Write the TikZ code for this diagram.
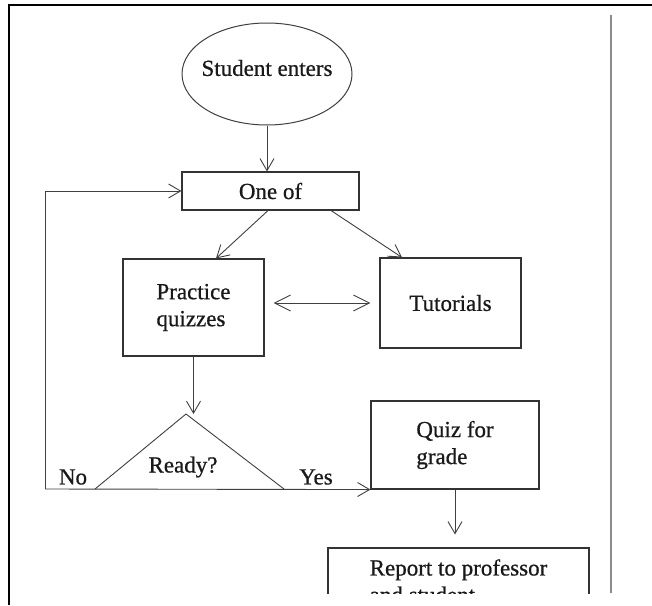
\documentclass[tikz,border=0pt]{standalone}
\usepackage{fontspec}
\setmainfont{Liberation Serif}[FakeBold=0.7]
\newfontfamily\diagfont{Liberation Serif}[FakeBold=0.7]
\usetikzlibrary{shapes.geometric,arrows.meta,calc}
\begin{document}
\begin{tikzpicture}[x=1pt,y=-1pt,
  txt/.style={font=\diagfont\fontsize{23}{27}\selectfont, text=black!90},
  box/.style={txt,draw=black!80,line width=1.1pt,rectangle,inner sep=0pt,align=left},
  arr/.style={draw=black!75,line width=0.9pt,-{Straight Barb[length=12pt,width=14pt,line width=0.9pt]}},
  darr/.style={draw=black!75,line width=0.9pt,{Straight Barb[length=16pt,width=16pt,line width=0.9pt]}-{Straight Barb[length=16pt,width=16pt,line width=0.9pt]}},
  plain/.style={draw=black!75,line width=0.9pt}]
\useasboundingbox[fill=white] (0,0) rectangle (652,605);

% frame
\draw[black,line width=2.5pt] (9,605) -- (9,5) -- (652,5);
\draw[black!45,line width=2pt] (611,15) -- (611,593);

% nodes
\node[draw=black!75,line width=1pt,ellipse,minimum width=170pt,minimum height=102pt,inner sep=0pt,
      label={[txt,yshift=6pt]center:Student enters}] (start) at (267,74) {};
\node[box,minimum width=177pt,minimum height=38pt] (oneof) at (270.5,191) {One of};
\node[box,minimum width=141pt,minimum height=97pt] (prac) at (193.5,307.5) {Practice\\quizzes};
\node[box,minimum width=141pt,minimum height=90pt] (tut) at (450.5,303) {Tutorials};
\node[box,minimum width=168pt,minimum height=88pt] (quiz) at (455,445) {Quiz for\\grade};
\begin{scope}
  \clip (0,0) rectangle (652,593);
  \node[box,minimum width=261pt,minimum height=66pt] (report) at (458.5,581) {Report to professor\\and student};
\end{scope}

% triangle
\coordinate (apex) at (186,414);
\coordinate (tl) at (95,489);
\coordinate (tr) at (284,489);
\draw[plain] (tl) -- (apex) -- (tr);
\node[txt] (ready) at (183,467) {Ready?};
\node[txt] (no) at (73,477) {No};
\node[txt] (yes) at (316,477) {Yes};

% loop
\coordinate (lb) at (45,489);
\coordinate (lt) at (45,191);

% connectors
\draw[arr] (start.south) -- (start.south |- oneof.north);
\draw[arr] ([xshift=-2.5pt]oneof.south) -- ([xshift=22.5pt]prac.north);
\draw[arr] ([xshift=60.5pt]oneof.south) -- ([xshift=-48.5pt]tut.north);
\draw[darr] ($(prac.east |- tut.west)+(9,0)$) -- ($(tut.west)+(-9,0)$);
\draw[arr] (prac.south) -- (prac.south |- apex);
\draw[arr] (lb) -- (lt) -- (oneof.west);
\draw[arr] (lb) -- (quiz.south west);
\draw[arr,shorten >=13pt] (quiz.south) -- (quiz.south |- report.north);
\end{tikzpicture}
\end{document}
